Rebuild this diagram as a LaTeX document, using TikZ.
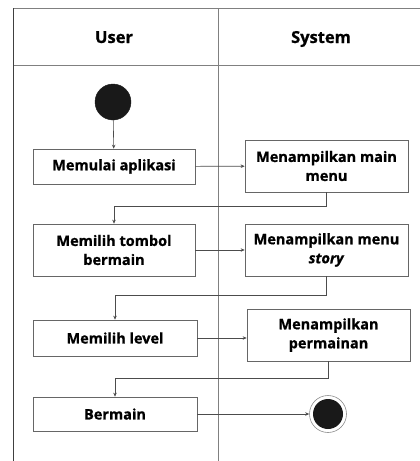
\documentclass[tikz,border=0pt]{standalone}
\usepackage{fontspec}
\setmainfont{Open Sans}[BoldFeatures={FakeBold=0.8},BoldItalicFeatures={FakeBold=0.8}]
\usetikzlibrary{arrows.meta}
\begin{document}
\begin{tikzpicture}[x=1pt,y=-1pt,
  lane/.style={draw=black!50, line width=0.6pt},
  border/.style={draw=black!75, line width=0.9pt},
  act/.style={draw=black!60, line width=0.7pt, rectangle, align=center,
    inner sep=0pt, font=\bfseries\fontsize{14.5}{19}\selectfont},
  head/.style={font=\bfseries\fontsize{16.5}{19}\selectfont, anchor=base},
  flow/.style={draw=black!70, line width=0.6pt, -{Stealth[length=4pt,width=3.5pt]}},
  startnode/.style={circle, fill=black!90, draw=black!90, minimum size=36pt, inner sep=0pt},
]
\useasboundingbox (0,0) rectangle (420,461);
\fill[white] (0,0) rectangle (420,461);

% swimlane frame
\begin{scope}
  \clip (0,0) rectangle (420,461);
  \draw[lane] (13,8) -- (425,8);
  \draw[lane] (13,65) -- (425,65);
  \draw[lane] (218,8) -- (218,470);
  \draw[border] (13,8) -- (13,470);
\end{scope}

\node[head] (hUser) at (114,43) {User};
\node[head] (hSys) at (321,43) {System};

% initial node
\node[startnode] (start) at (113,102) {};

% activities
\node[act, minimum width=162pt, minimum height=35pt] (a1) at (114,166.5) {Memulai aplikasi};
\node[act, minimum width=163pt, minimum height=52pt] (a2) at (326.5,166) {Menampilkan main\\menu};
\node[act, minimum width=162pt, minimum height=52pt] (a3) at (114,250) {Memilih tombol\\bermain};
\node[act, minimum width=163pt, minimum height=52pt] (a4) at (326.5,250) {Menampilkan menu\\\textit{story}};
\node[act, minimum width=164pt, minimum height=36pt] (a5) at (115,338) {Memilih level};
\node[act, minimum width=163pt, minimum height=52pt] (a6) at (328.5,335) {Menampilkan\\permainan};
\node[act, minimum width=164pt, minimum height=34pt] (a7) at (115,414) {Bermain};

% final node
\node[circle, draw=black!45, line width=0.6pt, minimum size=37pt, inner sep=0pt] (endring) at (328,414) {};
\node[circle, fill=black!90, minimum size=30pt, inner sep=0pt] (end) at (328,414) {};

% control flow
\draw[flow] (start) -- (a1);
\draw[flow] (a1) -- (a2);
\draw[flow] (a2.south) -- ++(0,14) -| (a3.north);
\draw[flow] (a3) -- (a4);
\draw[flow] (a4.south) -- ++(0,19) -| (a5.north);
\draw[flow] (a5.east) -- (a5.east -| a6.west);
\draw[flow] (a6.south) -- ++(0,17) -| (a7.north);
\draw[flow] (a7) -- (endring);
\end{tikzpicture}
\end{document}
